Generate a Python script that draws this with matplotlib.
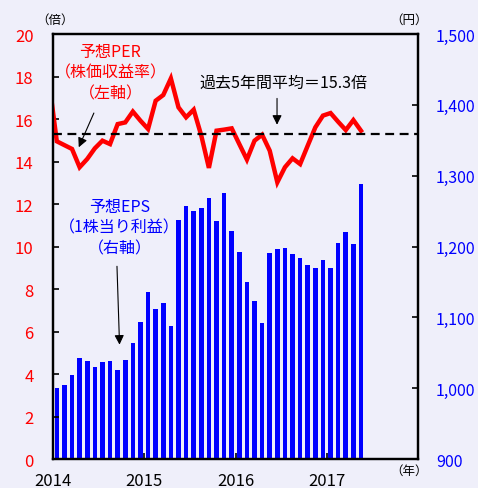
import matplotlib.pyplot as plt
import numpy as np
import pandas as pd

plt.rcParams['font.family'] = ['Noto Sans CJK JP', 'DejaVu Sans']

# monthly data, Jan 2014 - May 2017
eps_months = pd.date_range('2014-01-01', periods=41, freq='MS')
eps = [1000, 1004, 1019, 1043, 1039, 1030, 1037, 1038, 1025, 1040,
       1064, 1093, 1136, 1112, 1120, 1088, 1238, 1257, 1250, 1254,
       1268, 1236, 1275, 1222, 1192, 1150, 1123, 1092, 1191, 1197,
       1198, 1190, 1184, 1174, 1170, 1181, 1170, 1205, 1221, 1203, 1288]

# PER starts one month earlier (clipped at left edge)
per_months = pd.date_range('2013-12-01', periods=42, freq='MS')
per = [17.7, 14.95, 14.77, 14.59, 13.73, 14.12, 14.62, 14.98, 14.82, 15.76,
       15.84, 16.35, 15.92, 15.53, 16.86, 17.13, 17.91, 16.55, 16.08, 16.44,
       15.22, 13.70, 15.45, 15.50, 15.56, 14.82, 14.09, 14.98, 15.26, 14.51,
       13.02, 13.73, 14.15, 13.88, 14.75, 15.61, 16.16, 16.28, 15.87, 15.48,
       15.95, 15.45]
per_avg = 15.3

left_ticks = [0, 2, 4, 6, 8, 10, 12, 14, 16, 18, 20]
right_ticks = [900, 1000, 1100, 1200, 1300, 1400, 1500]
years = [2014, 2015, 2016, 2017]


def to_x(months):
    return months.year + (months.month - 0.5) / 12


fig = plt.figure(figsize=(4.78, 4.89), dpi=100, facecolor='#EFEFFA')
ax = fig.add_axes([0.1109, 0.0593, 0.7636, 0.8691])
ax2 = ax.twinx()
ax.set_zorder(2)
ax.patch.set_visible(False)
ax2.set_facecolor('white')

ax2.bar(to_x(eps_months), eps, width=0.6 / 12, color='#0000FF', bottom=0)
ax2.set_ylim(900, 1500)
ax2.set_yticks(right_ticks)
ax2.set_yticklabels([f'{v:,}' for v in right_ticks])

ax.plot(to_x(per_months), per, color='#FF0000', lw=3.2, solid_joinstyle='miter')
ax.axhline(per_avg, color='black', lw=1.6, ls=(0, (4, 2.5)))
ax.set_ylim(0, 20)
ax.set_xlim(2014, 2018)
ax.set_yticks(left_ticks)
ax.set_xticks(years)

for a in (ax, ax2):
    for s in a.spines.values():
        s.set_linewidth(1.6)
        s.set_color('black')
ax.tick_params(axis='y', direction='in', length=4, width=1.2, pad=14,
               labelsize=12, labelcolor='#FF0000')
ax.tick_params(axis='x', direction='in', length=4, width=1.2, pad=9,
               labelsize=12)
ax2.tick_params(axis='y', direction='in', length=4, width=1.2, pad=13,
                labelsize=11.5, labelcolor='#0000FF')

fig.text(0.115, 0.958, '（倍）', fontsize=9, ha='center', va='center')
fig.text(0.855, 0.958, '（円）', fontsize=9, ha='center', va='center')
fig.text(0.855, 0.036, '（年）', fontsize=9, ha='center', va='center')

ax.text(2014.63, 18.2, '予想PER\n（株価収益率）\n（左軸）', color='#FF0000',
        fontsize=11.5, ha='center', va='center', linespacing=1.3)
ax.text(2015.61, 17.74, '過去5年間平均＝15.3倍', color='black',
        fontsize=11.5, ha='left', va='center')
ax.text(2014.73, 10.9, '予想EPS\n（1株当り利益）\n（右軸）', color='#0000FF',
        fontsize=11.5, ha='center', va='center', linespacing=1.3)

arrow = dict(arrowstyle='-|>', color='black', lw=0.8, mutation_scale=14)
ax.annotate('', xy=(2014.27, 14.55), xytext=(2014.46, 16.4), arrowprops=arrow)
ax.annotate('', xy=(2016.455, 15.6), xytext=(2016.455, 17.1), arrowprops=arrow)
ax.annotate('', xy=(2014.73, 5.25), xytext=(2014.70, 9.2), arrowprops=arrow)

fig.savefig('out.png', dpi=100, facecolor=fig.get_facecolor())
